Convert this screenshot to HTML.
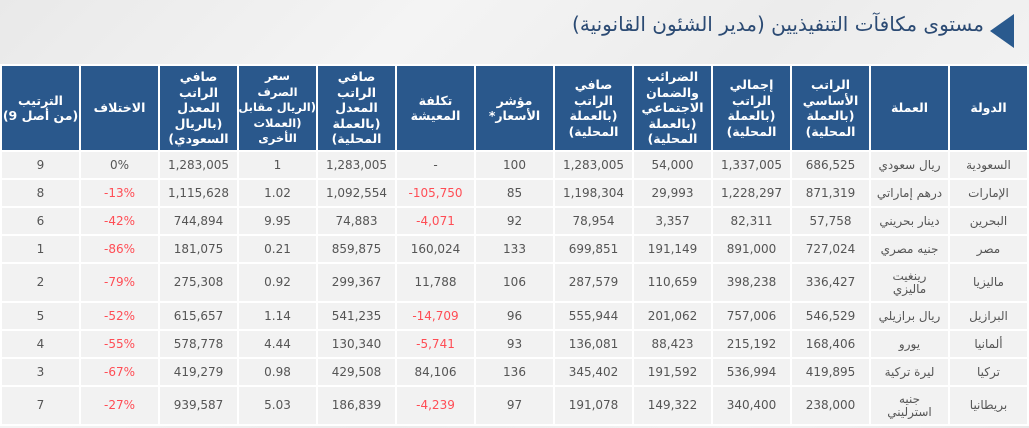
<!DOCTYPE html>
<html><head><meta charset="utf-8">
<style>
html,body{margin:0;padding:0;}
body{width:1029px;height:428px;overflow:hidden;position:relative;background:linear-gradient(135deg,#e9e9e9 0%,#f4f4f4 30%,#ececec 55%,#f3f3f3 80%,#eaeaea 100%);font-family:"DejaVu Sans","Liberation Sans","Noto Sans CJK SC",sans-serif;}
.title{position:absolute;right:45px;top:9px;font-size:20px;color:#2b4a73;direction:rtl;white-space:nowrap;line-height:30px;}
.tri{position:absolute;left:990px;top:14px;width:0;height:0;border-top:17px solid transparent;border-bottom:17px solid transparent;border-right:24px solid #2a5a8e;}
table{position:absolute;left:0;top:64px;width:1029px;border-collapse:collapse;table-layout:fixed;direction:rtl;}
td,th{border:2px solid #fff;text-align:center;padding:0;}
th{background:#2a588c;color:#fff;font-weight:bold;font-size:12.5px;line-height:15.5px;height:84px;}
th.sm{font-size:11.5px;letter-spacing:-0.3px;}
td{background:#f2f2f2;color:#555;font-size:12px;line-height:13px;}
td.n{color:#ff4d55;}
.l{direction:ltr;unicode-bidi:isolate;display:inline-block;}
tr.r1 td{height:26px}tr.r2 td{height:37px}
</style></head><body>
<div class="tri"></div>
<div class="title">مستوى مكافآت التنفيذيين (مدير الشئون القانونية)</div>
<table>
<tr>
<th>الدولة</th>
<th>العملة</th>
<th>الراتب<br>الأساسي<br>(بالعملة<br>المحلية)</th>
<th>إجمالي<br>الراتب<br>(بالعملة<br>المحلية)</th>
<th>الضرائب<br>والضمان<br>الاجتماعي<br>(بالعملة<br>المحلية)</th>
<th>صافي<br>الراتب<br>(بالعملة<br>المحلية)</th>
<th>مؤشر<br>الأسعار*</th>
<th>تكلفة<br>المعيشة</th>
<th>صافي<br>الراتب<br>المعدل<br>(بالعملة<br>المحلية)</th>
<th class="sm"><span style="white-space:nowrap">سعر</span><br>الصرف<br><span style="white-space:nowrap">(الريال مقابل</span><br>(العملات<br>الأخرى</th>
<th>صافي<br>الراتب<br>المعدل<br>(بالريال<br>السعودي)</th>
<th>الاختلاف</th>
<th>الترتيب<br>(من أصل 9)</th>
</tr>
<tr class="r1"><td>السعودية</td><td>ريال سعودي</td><td>686,525</td><td>1,337,005</td><td>54,000</td><td>1,283,005</td><td>100</td><td>-</td><td>1,283,005</td><td>1</td><td>1,283,005</td><td>0%</td><td>9</td></tr>
<tr class="r1"><td>الإمارات</td><td>درهم إماراتي</td><td>871,319</td><td>1,228,297</td><td>29,993</td><td>1,198,304</td><td>85</td><td class="n"><span class="l">-105,750</span></td><td>1,092,554</td><td>1.02</td><td>1,115,628</td><td class="n"><span class="l">-13%</span></td><td>8</td></tr>
<tr class="r1"><td>البحرين</td><td>دينار بحريني</td><td>57,758</td><td>82,311</td><td>3,357</td><td>78,954</td><td>92</td><td class="n"><span class="l">-4,071</span></td><td>74,883</td><td>9.95</td><td>744,894</td><td class="n"><span class="l">-42%</span></td><td>6</td></tr>
<tr class="r1"><td>مصر</td><td>جنيه مصري</td><td>727,024</td><td>891,000</td><td>191,149</td><td>699,851</td><td>133</td><td>160,024</td><td>859,875</td><td>0.21</td><td>181,075</td><td class="n"><span class="l">-86%</span></td><td>1</td></tr>
<tr class="r2"><td>ماليزيا</td><td>رينغيت<br>ماليزي</td><td>336,427</td><td>398,238</td><td>110,659</td><td>287,579</td><td>106</td><td>11,788</td><td>299,367</td><td>0.92</td><td>275,308</td><td class="n"><span class="l">-79%</span></td><td>2</td></tr>
<tr class="r1"><td>البرازيل</td><td>ريال برازيلي</td><td>546,529</td><td>757,006</td><td>201,062</td><td>555,944</td><td>96</td><td class="n"><span class="l">-14,709</span></td><td>541,235</td><td>1.14</td><td>615,657</td><td class="n"><span class="l">-52%</span></td><td>5</td></tr>
<tr class="r1"><td>ألمانيا</td><td>يورو</td><td>168,406</td><td>215,192</td><td>88,423</td><td>136,081</td><td>93</td><td class="n"><span class="l">-5,741</span></td><td>130,340</td><td>4.44</td><td>578,778</td><td class="n"><span class="l">-55%</span></td><td>4</td></tr>
<tr class="r1"><td>تركيا</td><td>ليرة تركية</td><td>419,895</td><td>536,994</td><td>191,592</td><td>345,402</td><td>136</td><td>84,106</td><td>429,508</td><td>0.98</td><td>419,279</td><td class="n"><span class="l">-67%</span></td><td>3</td></tr>
<tr class="r2"><td>بريطانيا</td><td>جنيه<br>استرليني</td><td>238,000</td><td>340,400</td><td>149,322</td><td>191,078</td><td>97</td><td class="n"><span class="l">-4,239</span></td><td>186,839</td><td>5.03</td><td>939,587</td><td class="n"><span class="l">-27%</span></td><td>7</td></tr>
</table>
</body></html>
